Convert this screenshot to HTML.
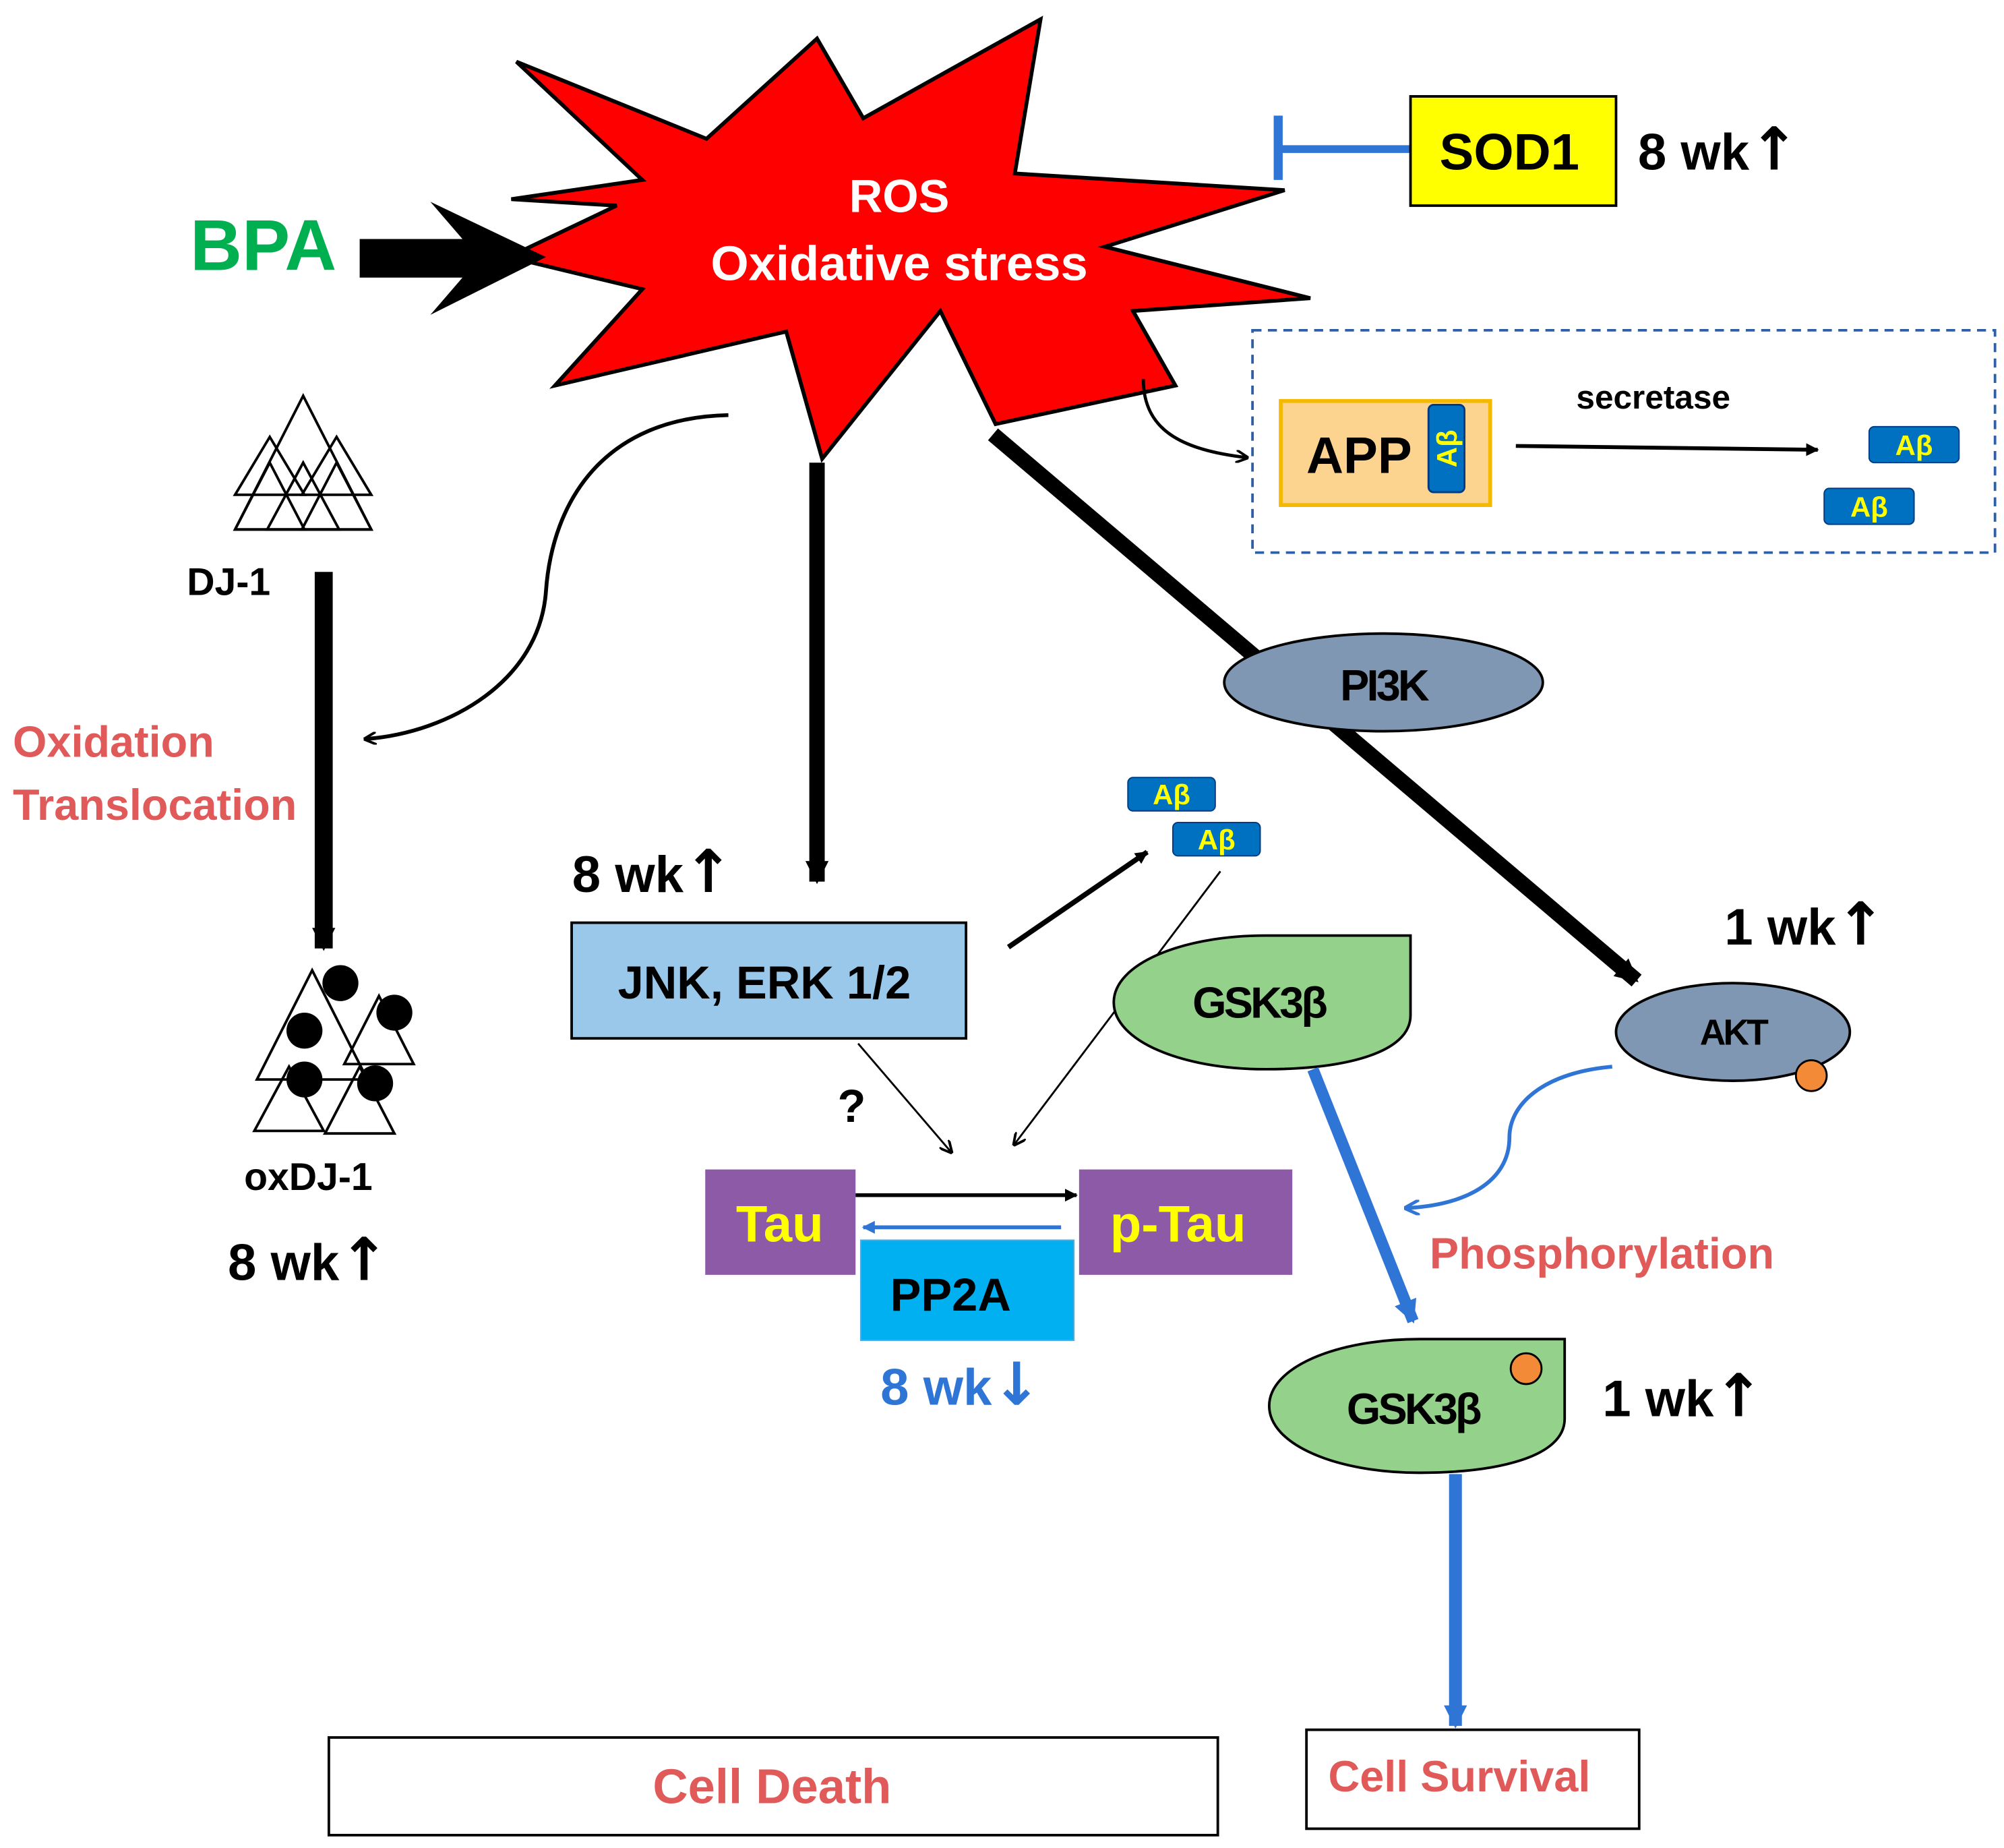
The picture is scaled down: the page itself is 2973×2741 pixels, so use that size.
<!DOCTYPE html>
<html><head><meta charset="utf-8"><style>
html,body{margin:0;padding:0;background:#fff;}
svg{display:block;}
text{font-family:"Liberation Sans","DejaVu Sans",sans-serif;font-weight:bold;}
.ar{font-family:"DejaVu Sans",sans-serif;font-weight:bold;}
</style></head><body>
<svg width="2973" height="2741" viewBox="0 0 1560 1438" preserveAspectRatio="none" xmlns="http://www.w3.org/2000/svg">
<defs>
<marker id="ab" markerWidth="10" markerHeight="10" refX="8" refY="5" orient="auto" markerUnits="userSpaceOnUse"><path d="M0,0 L10,5 L0,10" fill="none" stroke="#000" stroke-width="2"/></marker>
<marker id="abb" markerWidth="18" markerHeight="18" refX="16" refY="9" orient="auto" markerUnits="userSpaceOnUse"><path d="M0,0 L18,9 L0,18 Z" fill="#000"/></marker>
<marker id="ablue" markerWidth="18" markerHeight="18" refX="16" refY="9" orient="auto" markerUnits="userSpaceOnUse"><path d="M0,0 L18,9 L0,18 Z" fill="#2e75d6"/></marker>
<marker id="abl2" markerWidth="12" markerHeight="12" refX="10" refY="6" orient="auto" markerUnits="userSpaceOnUse"><path d="M0,0 L12,6 L0,12" fill="none" stroke="#2e75d6" stroke-width="2.5"/></marker>
<marker id="abs" markerWidth="10" markerHeight="10" refX="9" refY="5" orient="auto" markerUnits="userSpaceOnUse"><path d="M0,0 L10,5 L0,10 Z" fill="#000"/></marker>
<marker id="abbs" markerWidth="10" markerHeight="10" refX="9" refY="5" orient="auto" markerUnits="userSpaceOnUse"><path d="M0,0 L10,5 L0,10 Z" fill="#2e75d6"/></marker>
</defs>

<polygon points="402,48 550,108 636,30 672,92 810,15 790,135 1000,148 860,192 1020,232 882,242 915,300 775,330 732,242 640,357 612,258 432,300 500,225 396,200 480,160 398,155 500,140 " fill="#ff0000" stroke="#000" stroke-width="3"/>
<text x="700" y="165" font-size="36" fill="#fff" text-anchor="middle">ROS</text>
<text x="700" y="218" font-size="38" fill="#fff" text-anchor="middle">Oxidative stress</text>

<text x="205" y="210" font-size="56" fill="#00b050" text-anchor="middle">BPA</text>
<polygon points="280,186 360,186 335,157 425,200 335,245 360,216 280,216" fill="#000"/>

<line x1="1098" y1="116" x2="995" y2="116" stroke="#2e75d6" stroke-width="6"/>
<line x1="995" y1="90" x2="995" y2="140" stroke="#2e75d6" stroke-width="7"/>
<rect x="1098" y="75" width="160" height="85" fill="#ffff00" stroke="#000" stroke-width="2"/>
<text x="1175" y="132" font-size="40" text-anchor="middle">SOD1</text>
<text x="1275" y="132" font-size="40">8 wk<tspan class="ar" font-size="46">↑</tspan></text>

<rect x="975" y="257" width="578" height="173" fill="none" stroke="#2e5fa6" stroke-width="2" stroke-dasharray="7,5"/>
<path d="M890,295 C890,335 920,350 970,356" fill="none" stroke="#000" stroke-width="2.5" marker-end="url(#ab)"/>
<rect x="997" y="312" width="163" height="81" fill="#fcd490" stroke="#f5b800" stroke-width="3"/>
<text x="1058" y="368" font-size="40" text-anchor="middle">APP</text>
<rect x="1112" y="315" width="28" height="68" rx="4" fill="#0070c0" stroke="#003a80" stroke-width="1.5"/>
<text x="1126" y="349" font-size="22" fill="#ffff00" text-anchor="middle" transform="rotate(-90 1126 349)" dy="8">Aβ</text>
<line x1="1180" y1="347" x2="1415" y2="350" stroke="#000" stroke-width="3" marker-end="url(#abs)"/>
<text x="1287" y="318" font-size="26" text-anchor="middle">secretase</text>
<rect x="1455" y="332" width="70" height="28" rx="4" fill="#0070c0" stroke="#003a80"/>
<text x="1490" y="354" font-size="22" fill="#ffff00" text-anchor="middle">Aβ</text>
<rect x="1420" y="380" width="70" height="28" rx="4" fill="#0070c0" stroke="#003a80"/>
<text x="1455" y="402" font-size="22" fill="#ffff00" text-anchor="middle">Aβ</text>

<g fill="none" stroke="#000" stroke-width="2">
<polygon points="236,308 183,412 289,412"/>
<polygon points="210,340 183,385 237,385"/>
<polygon points="262,340 235,385 289,385"/>
<polygon points="236,360 208,412 264,412"/>
<polygon points="210,360 183,412 237,412"/>
<polygon points="262,360 235,412 289,412"/>
</g>
<text x="178" y="463" font-size="30" text-anchor="middle">DJ-1</text>
<line x1="252" y1="445" x2="252" y2="738" stroke="#000" stroke-width="14" marker-end="url(#abb)"/>
<path d="M567,323 C470,325 430,390 425,460 C420,530 350,570 285,575" fill="none" stroke="#000" stroke-width="3" marker-end="url(#ab)"/>
<text x="10" y="589" font-size="34" fill="#e05a5a">Oxidation</text>
<text x="10" y="638" font-size="34" fill="#e05a5a">Translocation</text>

<g fill="none" stroke="#000" stroke-width="2">
<polygon points="243,755 200,840 286,840"/>
<polygon points="295,775 268,828 322,828"/>
<polygon points="225,830 198,880 252,880"/>
<polygon points="280,830 253,882 307,882"/>
</g>
<g fill="#000"><circle cx="265" cy="765" r="14"/><circle cx="307" cy="788" r="14"/><circle cx="237" cy="802" r="14"/><circle cx="237" cy="840" r="14"/><circle cx="292" cy="843" r="14"/></g>
<text x="240" y="926" font-size="30" text-anchor="middle">oxDJ-1</text>
<text x="240" y="996" font-size="40" text-anchor="middle">8 wk<tspan class="ar" font-size="46">↑</tspan></text>

<line x1="636" y1="360" x2="636" y2="686" stroke="#000" stroke-width="12" marker-end="url(#abb)"/>
<text x="508" y="694" font-size="40" text-anchor="middle">8 wk<tspan class="ar" font-size="46">↑</tspan></text>
<rect x="445" y="718" width="307" height="90" fill="#9ac8ea" stroke="#000" stroke-width="2"/>
<text x="595" y="777" font-size="36" text-anchor="middle">JNK, ERK 1/2</text>
<line x1="785" y1="737" x2="893" y2="663" stroke="#000" stroke-width="4" marker-end="url(#abs)"/>
<rect x="878" y="605" width="68" height="26" rx="4" fill="#0070c0" stroke="#003a80"/>
<text x="912" y="626" font-size="22" fill="#ffff00" text-anchor="middle">Aβ</text>
<rect x="913" y="640" width="68" height="26" rx="4" fill="#0070c0" stroke="#003a80"/>
<text x="947" y="661" font-size="22" fill="#ffff00" text-anchor="middle">Aβ</text>
<line x1="950" y1="678" x2="790" y2="890" stroke="#000" stroke-width="1.5" marker-end="url(#ab)"/>
<line x1="668" y1="812" x2="740" y2="896" stroke="#000" stroke-width="1.5" marker-end="url(#ab)"/>
<text x="663" y="873" font-size="36" text-anchor="middle">?</text>

<line x1="773" y1="338" x2="1274" y2="763" stroke="#000" stroke-width="12" marker-end="url(#abb)"/>
<ellipse cx="1077" cy="531" rx="124" ry="38" fill="#7f97b2" stroke="#000" stroke-width="2"/>
<text x="1077" y="545" font-size="34" text-anchor="middle" letter-spacing="-2">PI3K</text>
<text x="1405" y="735" font-size="40" text-anchor="middle">1 wk<tspan class="ar" font-size="46">↑</tspan></text>
<ellipse cx="1349" cy="803" rx="91" ry="38" fill="#7f97b2" stroke="#000" stroke-width="2"/>
<text x="1349" y="813" font-size="28" text-anchor="middle" letter-spacing="-2">AKT</text>
<circle cx="1410" cy="837" r="12" fill="#f28a38" stroke="#000" stroke-width="1.5"/>

<path d="M1098,728 L1098,790 C1098,820 1045,832 985,832 C920,832 867,810 867,780 C867,750 920,728 985,728 Z" fill="#94d18a" stroke="#000" stroke-width="2"/>
<text x="980" y="792" font-size="34" text-anchor="middle" letter-spacing="-2">GSK3β</text>
<line x1="1022" y1="832" x2="1100" y2="1028" stroke="#2e75d6" stroke-width="9" marker-end="url(#ablue)"/>
<path d="M1255,830 C1200,835 1175,860 1175,885 C1175,920 1140,938 1095,940" fill="none" stroke="#2e75d6" stroke-width="3" marker-end="url(#abl2)"/>
<text x="1247" y="987" font-size="34" fill="#e05a5a" text-anchor="middle">Phosphorylation</text>

<path d="M1218,1042 L1218,1104 C1218,1134 1165,1146 1105,1146 C1040,1146 988,1124 988,1094 C988,1064 1040,1042 1105,1042 Z" fill="#94d18a" stroke="#000" stroke-width="2"/>
<text x="1100" y="1108" font-size="34" text-anchor="middle" letter-spacing="-2">GSK3β</text>
<circle cx="1188" cy="1065" r="12" fill="#f28a38" stroke="#000" stroke-width="1.5"/>
<text x="1310" y="1102" font-size="40" text-anchor="middle">1 wk<tspan class="ar" font-size="46">↑</tspan></text>
<line x1="1133" y1="1147" x2="1133" y2="1343" stroke="#2e75d6" stroke-width="10" marker-end="url(#ablue)"/>

<rect x="549" y="910" width="117" height="82" fill="#8c5aa6"/>
<text x="607" y="966" font-size="40" fill="#ffff00" text-anchor="middle">Tau</text>
<rect x="840" y="910" width="166" height="82" fill="#8c5aa6"/>
<text x="917" y="966" font-size="40" fill="#ffff00" text-anchor="middle">p-Tau</text>
<rect x="670" y="965" width="166" height="78" fill="#00b0f0" stroke="#5ba9de" stroke-width="1"/>
<text x="740" y="1020" font-size="36" text-anchor="middle">PP2A</text>
<line x1="666" y1="930" x2="838" y2="930" stroke="#000" stroke-width="3" marker-end="url(#abs)"/>
<line x1="826" y1="955" x2="672" y2="955" stroke="#2e75d6" stroke-width="3" marker-end="url(#abbs)"/>
<text x="748" y="1093" font-size="40" fill="#2e75d6" text-anchor="middle">8 wk<tspan class="ar" font-size="46">↓</tspan></text>

<rect x="256" y="1352" width="692" height="76" fill="#fff" stroke="#000" stroke-width="2"/>
<text x="601" y="1403" font-size="38" fill="#e05a5a" text-anchor="middle">Cell  Death</text>
<rect x="1017" y="1346" width="259" height="77" fill="#fff" stroke="#000" stroke-width="2"/>
<text x="1136" y="1394" font-size="34" fill="#e05a5a" text-anchor="middle">Cell Survival</text>
</svg>
</body></html>
